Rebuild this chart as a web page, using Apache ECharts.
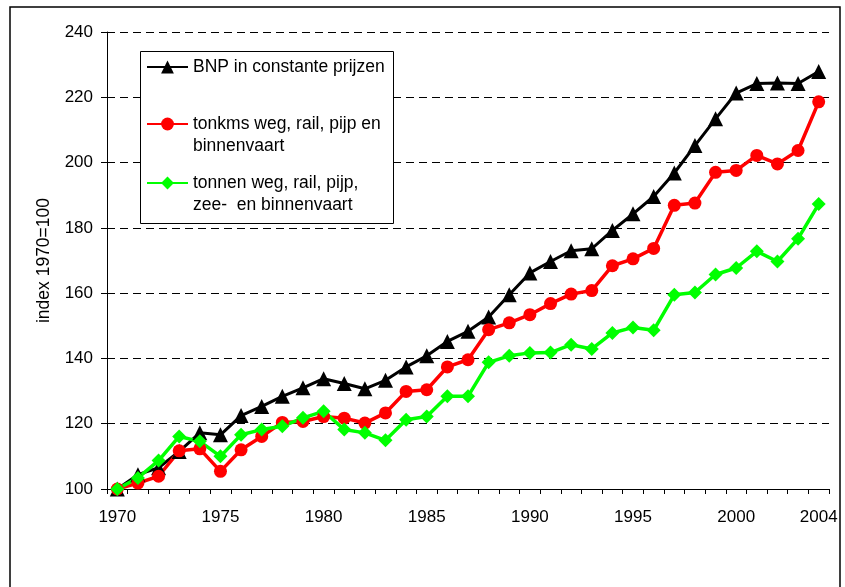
<!DOCTYPE html>
<html>
<head>
<meta charset="utf-8">
<script src="https://cdn.jsdelivr.net/npm/echarts@6/dist/echarts.min.js"></script>
<style>
    html, body { margin: 0; padding: 0; background: #fff; }
    #chart { width: 845px; height: 587px; }
</style>
</head>
<body>
<div id="chart"></div>
<script>
    // jaren op de x-as
    const years = ['1970', '1971', '1972', '1973', '1974', '1975', '1976', '1977', '1978', '1979',
        '1980', '1981', '1982', '1983', '1984', '1985', '1986', '1987', '1988', '1989',
        '1990', '1991', '1992', '1993', '1994', '1995', '1996', '1997', '1998', '1999',
        '2000', '2001', '2002', '2003', '2004']
    // alleen deze jaren krijgen een label
    const yearLabels = ['1970', '1975', '1980', '1985', '1990', '1995', '2000', '2004']

    const bnp = [100, 104.4, 106.5, 111.5, 117.2, 116.6, 122.5, 125.3, 128.4, 131,
        133.8, 132.3, 130.7, 133.3, 137.4, 140.8, 145.2, 148.3, 152.7, 159.5,
        166.2, 169.7, 173, 173.6, 179.2, 184.3, 189.6, 196.8, 205.2, 213.4,
        221.3, 224.2, 224.4, 224.2, 227.9]
    const tonkms = [100, 101.8, 103.9, 111.7, 112.3, 105.4, 112, 116.1, 120.4, 120.7,
        122.2, 121.7, 120.2, 123.3, 129.9, 130.4, 137.4, 139.6, 148.8, 150.9,
        153.4, 156.8, 159.7, 160.8, 168.4, 170.5, 173.7, 186.9, 187.6, 197,
        197.6, 202.2, 199.6, 203.7, 218.6]
    const tonnen = [100, 103.4, 108.7, 116.1, 114.6, 110, 116.6, 118.2, 119.2, 121.8,
        123.8, 118.2, 117.2, 114.9, 121.2, 122.2, 128.4, 128.4, 138.8, 140.8,
        141.7, 141.8, 144.2, 142.9, 147.8, 149.5, 148.6, 159.5, 160.2, 165.7,
        167.7, 172.8, 169.7, 176.7, 187.3]

    const names = [
        'BNP in constante prijzen',
        'tonkms weg, rail, pijp en\nbinnenvaart',
        'tonnen weg, rail, pijp,\nzee-  en binnenvaart'
    ]

    const font = "'Liberation Sans', Arial, sans-serif"

    // een legenda per reeks, zodat de plek precies klopt
    function legendAt(name, top) {
        return {
            data: [name],
            left: 146,
            top: top,
            padding: 0,
            itemWidth: 41,
            itemHeight: 16,
            itemGap: 0,
            selectedMode: false,
            // lege regel erboven: dan staat het symbool bij de eerste regel
            formatter: n => n.indexOf('\n') >= 0 ? '\n' + n : n,
            textStyle: {
                fontFamily: font,
                fontSize: 17.5,
                color: '#000',
                lineHeight: 22
            }
        }
    }

    function makeSeries(name, data, color, symbol, size, width) {
        return {
            name: name,
            type: 'line',
            data: data,
            symbol: symbol,
            symbolSize: size,
            showAllSymbol: true,
            itemStyle: {color: color},
            lineStyle: {color: color, width: width},
            animation: false
        }
    }

    const chart = echarts.init(document.getElementById('chart'), null, {renderer: 'canvas'})
    chart.setOption({
        backgroundColor: '#fff',
        animation: false,
        textStyle: {fontFamily: font},
        grid: {left: 107, right: 16, top: 32, bottom: 98, containLabel: false, outerBoundsMode: 'none'},
        graphic: [
            {
                type: 'rect', z: 0, silent: true,
                shape: {x: 10, y: 7, width: 830, height: 640},
                style: {fill: 'none', stroke: '#000', lineWidth: 1.5}
            },
            {
                type: 'rect', z: 3, silent: true,
                shape: {x: 140.5, y: 51.5, width: 253, height: 172},
                style: {fill: '#fff', stroke: '#000', lineWidth: 1}
            }
        ],
        legend: [
            legendAt(names[0], 56),
            legendAt(names[1], 91),
            legendAt(names[2], 150)
        ],
        xAxis: {
            type: 'category',
            data: years,
            boundaryGap: true,
            axisLine: {lineStyle: {color: '#000', width: 1}},
            axisTick: {show: true, interval: 0, length: 5, lineStyle: {color: '#000'}},
            axisLabel: {
                interval: (i, v) => yearLabels.includes(v),
                margin: 20,
                fontSize: 17,
                color: '#000',
                fontFamily: font
            },
            splitLine: {show: false}
        },
        yAxis: {
            type: 'value',
            min: 100,
            max: 240,
            interval: 20,
            name: 'index 1970=100',
            nameLocation: 'middle',
            nameGap: 54,
            nameTextStyle: {fontSize: 17.5, color: '#000', fontFamily: font},
            axisLine: {show: true, lineStyle: {color: '#000', width: 1}},
            axisTick: {show: true, length: 6, lineStyle: {color: '#000'}},
            axisLabel: {margin: 14, fontSize: 17, color: '#000', fontFamily: font},
            splitLine: {show: true, lineStyle: {color: '#000', type: [8, 5], width: 1}}
        },
        series: [
            makeSeries(names[0], bnp, '#000000', 'triangle', 15, 3),
            makeSeries(names[1], tonkms, '#ff0000', 'circle', 13, 3.5),
            makeSeries(names[2], tonnen, '#00ff00', 'diamond', 14, 3.5)
        ]
    })
</script>
</body>
</html>
